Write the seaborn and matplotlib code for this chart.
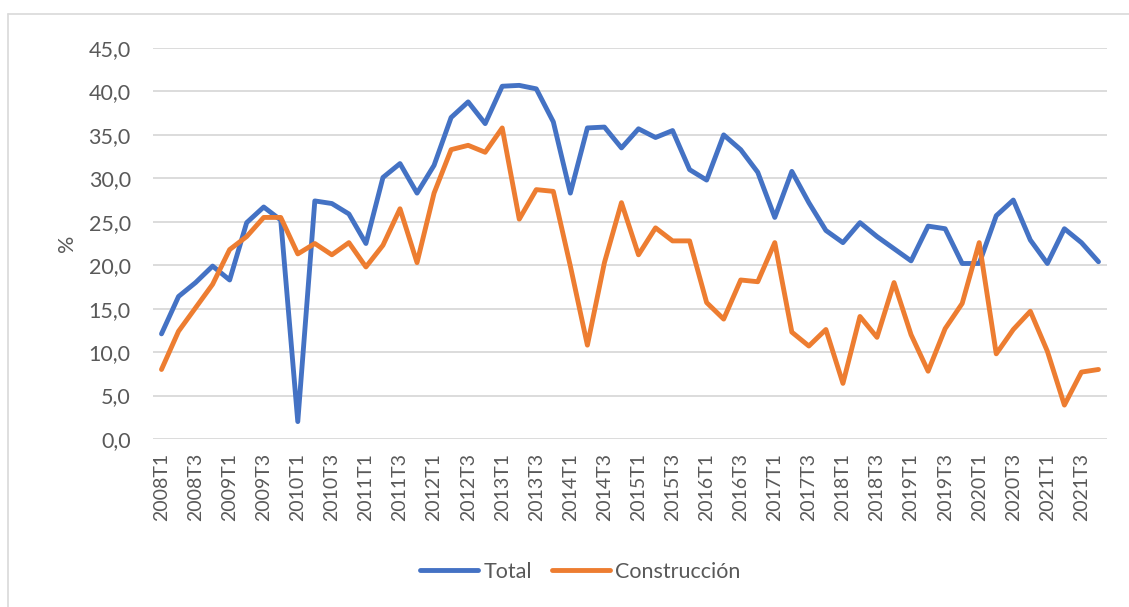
import numpy as np
import pandas as pd
import matplotlib
matplotlib.use("Agg")
import matplotlib.pyplot as plt
from matplotlib.lines import Line2D
import seaborn as sns

quarters = [f"{y}T{q}" for y in range(2008, 2022) for q in range(1, 5)]

total = [12.1, 16.4, 18.0, 19.9, 18.3, 24.9, 26.7, 25.2, 2.0, 27.4,
         27.1, 25.9, 22.5, 30.1, 31.7, 28.3, 31.5, 37.0, 38.8, 36.3,
         40.6, 40.7, 40.3, 36.5, 28.3, 35.8, 35.9, 33.5, 35.7, 34.7,
         35.5, 31.0, 29.8, 35.0, 33.3, 30.7, 25.5, 30.8, 27.2, 24.0,
         22.6, 24.9, 23.3, 21.9, 20.5, 24.5, 24.2, 20.2, 20.2, 25.7,
         27.5, 22.9, 20.2, 24.2, 22.6, 20.4]

construccion = [8.0, 12.4, 15.1, 17.8, 21.8, 23.3, 25.5, 25.5, 21.3, 22.5,
                21.2, 22.6, 19.8, 22.3, 26.5, 20.3, 28.3, 33.3, 33.8, 33.0,
                35.8, 25.3, 28.7, 28.5, 19.9, 10.8, 20.3, 27.2, 21.2, 24.3,
                22.8, 22.8, 15.7, 13.8, 18.3, 18.1, 22.6, 12.3, 10.7, 12.6,
                6.4, 14.1, 11.7, 18.0, 12.0, 7.8, 12.7, 15.6, 22.6, 9.8,
                12.6, 14.7, 10.1, 3.9, 7.7, 8.0]

df = pd.DataFrame({
    "x": list(range(len(quarters))) * 2,
    "valor": total + construccion,
    "serie": ["Total"] * len(total) + ["Construcción"] * len(construccion),
})

sns.set_style("white")
plt.rcParams["font.family"] = ["Lato", "DejaVu Sans"]
txt = "#595959"

fig = plt.figure(figsize=(11.29, 6.07), dpi=100)
ax = fig.add_axes([0.1355, 0.2768, 0.845, 0.6441])

sns.lineplot(data=df, x="x", y="valor", hue="serie",
             palette={"Total": "#4472C4", "Construcción": "#ED7D31"},
             linewidth=3.5, ax=ax, legend=False)

ax.set_xlim(-0.5, len(quarters) - 0.5)
ax.set_ylim(0, 45)
ax.set_yticks(np.arange(0, 46, 5))
ax.set_yticklabels([f"{v:.1f}".replace(".", ",") for v in np.arange(0, 46, 5)],
                   fontsize=15.5, color=txt)
ax.set_xticks(range(0, len(quarters), 2))
ax.set_xticklabels(quarters[::2], rotation=90, fontsize=14, color=txt)
ax.tick_params(axis="y", length=0, pad=16)
ax.tick_params(axis="x", length=0, pad=10)
ax.grid(axis="y", color="#d9d9d9", linewidth=1.3)
ax.set_axisbelow(True)
for s in ax.spines.values():
    s.set_visible(False)
ax.set_xlabel("")
ax.set_ylabel("%", fontsize=15.5, color=txt)
ax.yaxis.set_label_coords(-0.08, 0.5)

handles = [Line2D([], [], color="#4472C4", linewidth=3.5),
           Line2D([], [], color="#ED7D31", linewidth=3.5)]
fig.legend(handles, ["Total", "Construcción"], loc="center",
           bbox_to_anchor=(0.514, 0.058), ncol=2, frameon=False,
           fontsize=15.5, labelcolor=txt, handlelength=2.7, handletextpad=0.25,
           columnspacing=0.9)

fig.add_artist(Line2D([8 / 1129, 1], [1 - 14 / 607, 1 - 14 / 607],
                      transform=fig.transFigure, color="#d9d9d9", linewidth=1.2))
fig.add_artist(Line2D([8 / 1129, 8 / 1129], [0, 1 - 14 / 607],
                      transform=fig.transFigure, color="#d9d9d9", linewidth=1.2))

fig.savefig("out.png", dpi=100)
